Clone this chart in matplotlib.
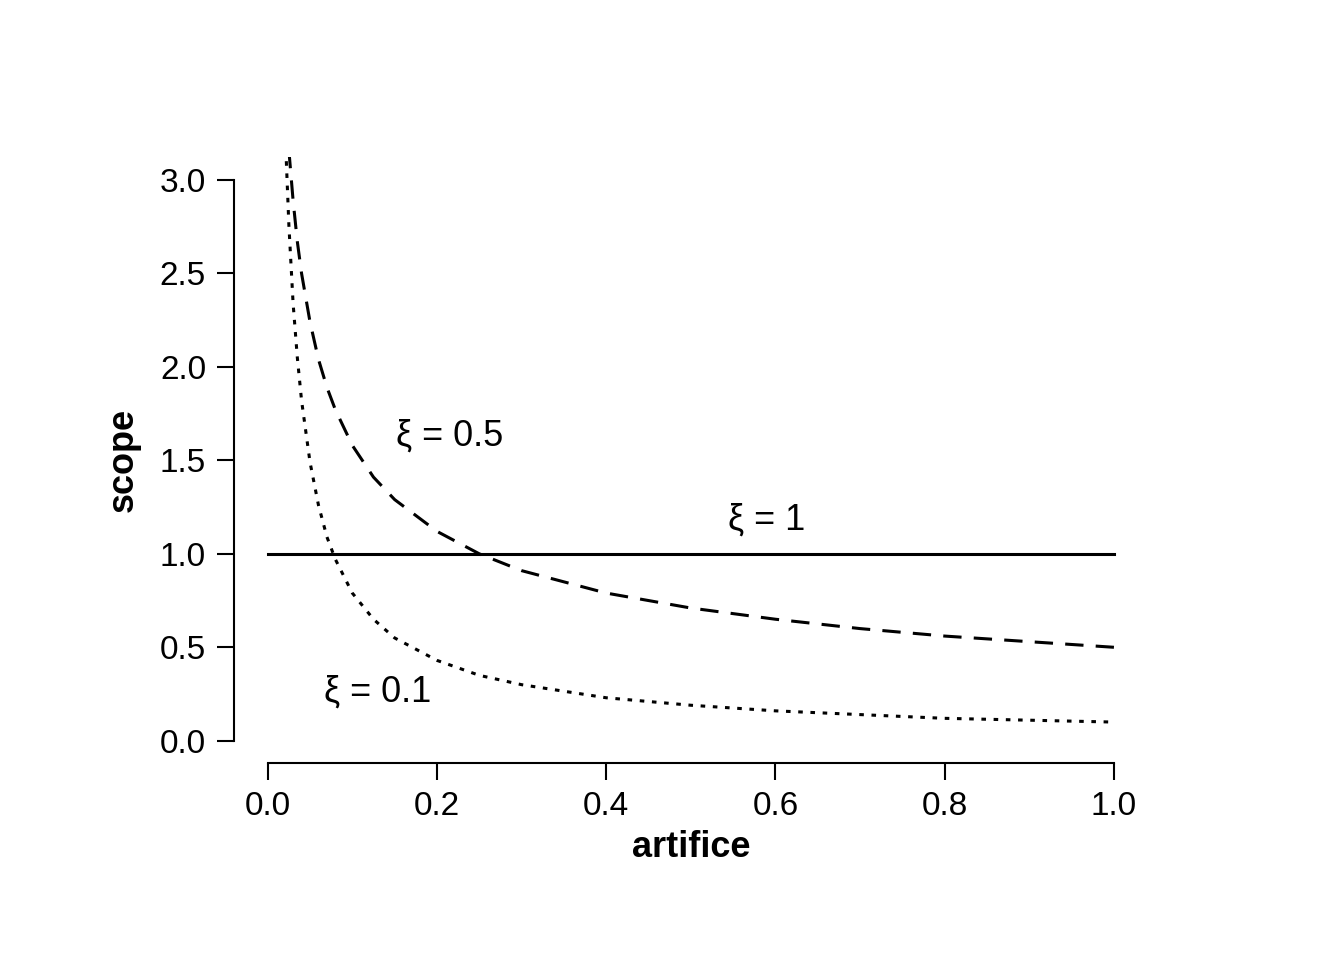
import matplotlib
matplotlib.use("Agg")
import matplotlib.pyplot as plt

plt.rcParams['font.family'] = ['Liberation Sans', 'DejaVu Sans']

# values
x = [0.025, 0.03, 0.035, 0.04, 0.05, 0.06, 0.07, 0.08, 0.1, 0.125, 0.15, 0.2,
     0.25, 0.3, 0.4, 0.5, 0.6, 0.7, 0.8, 0.9, 1.0]
y_half = [3.16, 2.89, 2.67, 2.50, 2.24, 2.04, 1.89, 1.77, 1.58, 1.41, 1.29, 1.12,
          1.00, 0.91, 0.79, 0.71, 0.65, 0.60, 0.56, 0.53, 0.50]
x_tenth = [0.022] + x
y_tenth = [3.10, 2.76, 2.34, 2.05, 1.82, 1.49, 1.26, 1.09, 0.97, 0.79, 0.65, 0.55, 0.43,
           0.35, 0.30, 0.23, 0.19, 0.16, 0.14, 0.12, 0.11, 0.10]
x_one = [0.0, 1.0]
y_one = [1.0, 1.0]

fig = plt.figure(figsize=(13.44, 9.6), dpi=100)
ax = fig.add_axes([0.174, 0.205, 0.680, 0.631])
ax.plot(x_one, y_one, color='black', lw=2.2)
ax.plot(x, y_half, color='black', lw=2.2, dashes=(6, 4))
ax.plot(x_tenth, y_tenth, color='black', lw=2.2, dashes=(1.5, 2.5))
ax.set_xlim(-0.04, 1.04)
ax.set_ylim(-0.12, 3.12)

for s in ['top', 'right']:
    ax.spines[s].set_visible(False)
ax.spines['left'].set_bounds(0, 3)
ax.spines['bottom'].set_bounds(0, 1)
for s in ['left', 'bottom']:
    ax.spines[s].set_linewidth(1.5)
ax.set_xticks([0, 0.2, 0.4, 0.6, 0.8, 1.0])
ax.set_yticks([0, 0.5, 1, 1.5, 2, 2.5, 3])
ax.set_xticklabels(['0.0', '0.2', '0.4', '0.6', '0.8', '1.0'])
ax.set_yticklabels(['0.0', '0.5', '1.0', '1.5', '2.0', '2.5', '3.0'])
ax.tick_params(labelsize=24, length=12, width=1.5, pad=8)
ax.set_xlabel('artifice', fontsize=26, fontweight='bold', labelpad=6)
ax.set_ylabel('scope', fontsize=26, fontweight='bold', labelpad=14)

ax.text(0.215, 1.63, 'ξ = 0.5', fontsize=26, ha='center', va='center')
ax.text(0.59, 1.18, 'ξ = 1', fontsize=26, ha='center', va='center')
ax.text(0.13, 0.26, 'ξ = 0.1', fontsize=26, ha='center', va='center')

fig.savefig('out.png', dpi=100)
